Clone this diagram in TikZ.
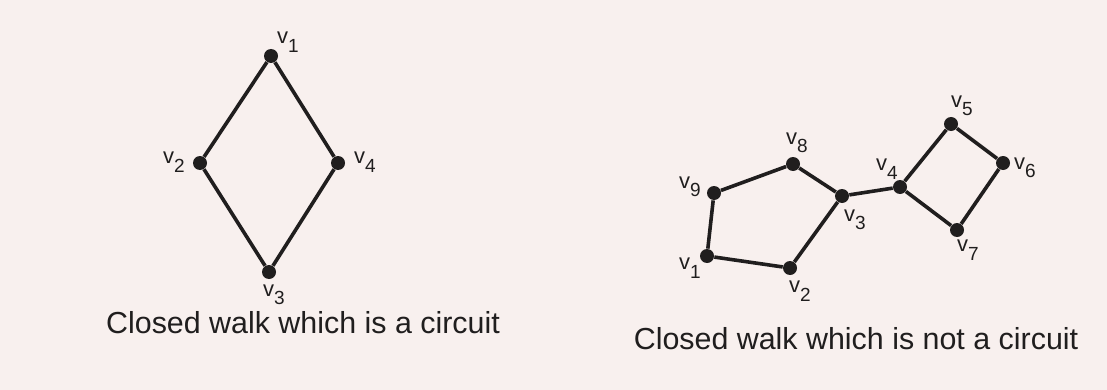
\documentclass[tikz,border=0pt]{standalone}
\usepackage{fontspec}
\setmainfont{Liberation Sans}
\usetikzlibrary{positioning}
\definecolor{paper}{RGB}{248,240,238}
\definecolor{ink}{RGB}{32,30,30}
\newcommand{\vlab}[1]{v\raisebox{-4.2pt}{\fontsize{9.5}{11}\selectfont #1}}

\begin{document}
\begin{tikzpicture}[x=0.5pt,y=-0.5pt,
    vert/.style={circle,fill=ink,inner sep=0pt,minimum size=7pt},
    lab/.style={text=ink,font=\fontsize{11}{13}\selectfont,inner sep=0pt},
    captext/.style={text=ink,font=\fontsize{15.2}{18}\selectfont,anchor=base},
    edge/.style={ink,line width=1.8pt}]
      % Paper
      \fill[paper] (0,0) rectangle (1107,390);
      \useasboundingbox (0,0) rectangle (1107,390);
      % Circuit (left)
      \node[vert] (a1) at (271,56) {};
      \node[vert] (a2) at (200,163) {};
      \node[vert] (a3) at (269,272) {};
      \node[vert] (a4) at (338,163) {};
      \draw[edge] (a1) -- (a4) -- (a3) -- (a2) -- (a1);
      \node[lab] (la1) at (288,42) {\vlab{1}};
      \node[lab] (la2) at (174,162) {\vlab{2}};
      \node[lab] (la3) at (274,295) {\vlab{3}};
      \node[lab] (la4) at (365,162) {\vlab{4}};
      % Closed walk, not a circuit (right)
      \node[vert] (b1) at (707,256) {};
      \node[vert] (b2) at (790,268) {};
      \node[vert] (b3) at (842,196) {};
      \node[vert] (b4) at (900,187) {};
      \node[vert] (b5) at (951,124) {};
      \node[vert] (b6) at (1003,163) {};
      \node[vert] (b7) at (957,230) {};
      \node[vert] (b8) at (793,164) {};
      \node[vert] (b9) at (714,193) {};
      \draw[edge] (b1) -- (b2) -- (b3) -- (b4) -- (b5) -- (b6) -- (b7) -- (b4);
      \draw[edge] (b3) -- (b8) -- (b9) -- (b1);
      \node[lab] (lb1) at (690,268) {\vlab{1}};
      \node[lab] (lb2) at (800,291) {\vlab{2}};
      \node[lab] (lb3) at (855,220) {\vlab{3}};
      \node[lab] (lb4) at (887,169) {\vlab{4}};
      \node[lab] (lb5) at (962,106) {\vlab{5}};
      \node[lab] (lb6) at (1025,168) {\vlab{6}};
      \node[lab] (lb7) at (968,250) {\vlab{7}};
      \node[lab] (lb8) at (797,143) {\vlab{8}};
      \node[lab] (lb9) at (690,187) {\vlab{9}};
      % Captions
      \node[captext] (capa) at (303,333) {Closed walk which is a circuit};
      \node[captext] (capb) at (856,349) {Closed walk which is not a circuit};
    \end{tikzpicture}
\end{document}
